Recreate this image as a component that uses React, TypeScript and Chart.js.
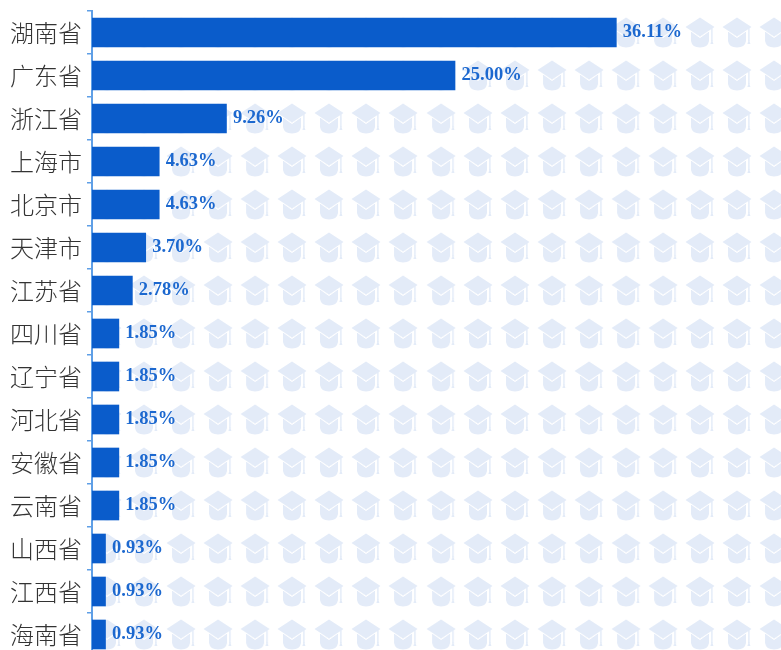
import React, { useEffect, useRef } from "react";
import { Chart, registerables, ScatterController } from "chart.js";

Chart.register(...registerables);

class IconScatterController extends ScatterController {
  static id = "iconScatter";
  getMaxOverflow() {
    return 0 as any;
  }
}
Chart.register(IconScatterController);

const categories = ["湖南省", "广东省", "浙江省", "上海市", "北京市", "天津市", "江苏省", "四川省", "辽宁省", "河北省", "安徽省", "云南省", "山西省", "江西省", "海南省"];
const shares = [36.11, 25.0, 9.26, 4.63, 4.63, 3.7, 2.78, 1.85, 1.85, 1.85, 1.85, 1.85, 0.93, 0.93, 0.93];
const iconColumns = [1.03, 3.58, 6.13, 8.68, 11.23, 13.77, 16.32, 18.87, 21.42, 24.04, 26.58, 29.13, 31.68, 34.23, 36.78, 39.33, 41.87, 44.42, 46.97];

const BAR = "#0a5ccb";
const ICON = "#e3ebf8";
const AXIS = "#5f9fe6";
const LABEL = "#1c68cf";

function makeCapIcon(): HTMLCanvasElement {
  const c = document.createElement("canvas");
  c.width = 30;
  c.height = 31;
  const g = c.getContext("2d")!;
  g.fillStyle = ICON;
  g.beginPath();
  g.moveTo(6, 14);
  g.lineTo(15, 20);
  g.lineTo(24, 14);
  g.lineTo(24, 24);
  g.quadraticCurveTo(23, 30.5, 15, 30.5);
  g.quadraticCurveTo(7, 30.5, 6, 24);
  g.closePath();
  g.fill();
  g.strokeStyle = "#ffffff";
  g.lineWidth = 1;
  g.beginPath();
  g.moveTo(3, 12);
  g.lineTo(15, 20.6);
  g.lineTo(27, 12);
  g.stroke();
  g.beginPath();
  g.moveTo(15, 0.5);
  g.lineTo(29.5, 10);
  g.lineTo(15, 19.5);
  g.lineTo(0.5, 10);
  g.closePath();
  g.fill();
  g.fillRect(26.2, 11, 1.4, 13);
  g.beginPath();
  g.moveTo(26.9, 22);
  g.lineTo(28.4, 27);
  g.lineTo(25.4, 27);
  g.closePath();
  g.fill();
  return c;
}

const valueLabels = {
  id: "valueLabels",
  afterDatasetsDraw(chart: any) {
    const meta = chart.getDatasetMeta(0);
    const ctx = chart.ctx;
    ctx.save();
    ctx.font = 'bold 18.5px "Liberation Serif"';
    ctx.fillStyle = LABEL;
    ctx.textAlign = "left";
    ctx.textBaseline = "middle";
    meta.data.forEach((bar: any, i: number) => {
      ctx.fillText(shares[i].toFixed(2) + "%", bar.x + 6.5, bar.y - 0.5);
    });
    ctx.restore();
  },
};

export default function App() {
  const ref = useRef<HTMLCanvasElement>(null);
  useEffect(() => {
    document.body.style.margin = "0";
    document.body.style.overflow = "hidden";
    const icon = makeCapIcon();
    const iconPoints = categories.flatMap((y) => iconColumns.map((x) => ({ x, y })));
    const chart = new Chart(ref.current!, {
      type: "bar",
      data: {
        labels: categories,
        datasets: [
          {
            type: "bar",
            data: shares,
            backgroundColor: BAR,
            barThickness: 29,
            order: 0,
          },
          {
            type: "iconScatter",
            data: iconPoints,
            pointStyle: icon,
            pointRadius: 15,
            showLine: false,
            order: 1,
          },
        ],
      } as any,
      options: {
        indexAxis: "y",
        responsive: false,
        animation: false,
        layout: { padding: { top: 11, left: 0, right: 0, bottom: 0 } },
        plugins: { legend: { display: false }, tooltip: { enabled: false } },
        scales: {
          x: { type: "linear", display: false, min: 0, max: 47.45 },
          y: {
            type: "category",
            labels: categories,
            offset: true,
            afterFit(s: any) {
              s.width = 92;
              s.paddingTop = 0;
              s.paddingBottom = 0;
            },
            border: { display: true, color: AXIS, width: 2 },
            grid: { display: true, drawOnChartArea: false, drawTicks: true, tickLength: 5, offset: true, color: AXIS, lineWidth: 1.5 },
            ticks: {
              padding: 5,
              autoSkip: false,
              color: "#333333",
              font: { family: '"Noto Sans CJK SC"', size: 24, weight: 300 },
            },
          },
        },
      } as any,
      plugins: [valueLabels],
    });
    return () => chart.destroy();
  }, []);
  return (
    <div style={{ width: 781, height: 650, overflow: "hidden" }}>
      <canvas ref={ref} width={781} height={656} style={{ display: "block", filter: "blur(0.4px)" }} />
    </div>
  );
}
